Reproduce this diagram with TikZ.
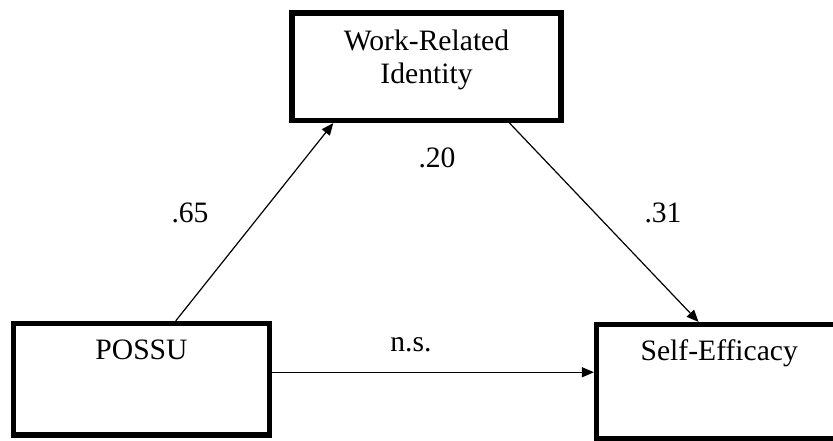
\documentclass[tikz,border=0pt]{standalone}
\usepackage{fontspec}
\setmainfont{Liberation Serif}
\usetikzlibrary{arrows.meta,positioning,calc}

\begin{document}
\begin{tikzpicture}[
  x=0.5pt, y=-0.5pt,
  font=\fontsize{14.8}{16.5}\selectfont,
  box/.style={draw, line width=2.6pt, inner sep=0pt},
  boxtext/.style={align=center, inner sep=0pt},
  coef/.style={inner sep=0pt},
  arr/.style={-{Triangle[length=6pt,width=5pt]}, line width=0.6pt}
]
\useasboundingbox (0,0) rectangle (833,440);
% the three boxes
\node[box, minimum width=134.5pt, minimum height=53.75pt] (wri) at (426.5,66.75) {};
\node[box, minimum width=128pt, minimum height=55.75pt] (possu) at (141.5,379.25) {};
\node[box, minimum width=122.75pt, minimum height=57pt] (se) at (719.25,381.5) {};
\node[boxtext, below=9.5pt of wri.north] (writext) {Work-Related\\Identity};
\node[boxtext, below=9.5pt of possu.north] (possutext) {POSSU};
\node[boxtext, below=8.5pt of se.north] (setext) {Self-Efficacy};
% paths
\draw[arr] ($(possu.north west)!0.631!(possu.north east)$) -- ($(wri.south west)!0.16!(wri.south east)$);
\draw[arr] ($(wri.south west)!0.803!(wri.south east)$) -- ($(se.north west)!0.4175!(se.north east)$);
\draw[arr] ($(possu.north east)!0.44!(possu.south east)$) coordinate (direct) -- (direct -| se.west);
% coefficients
\node[coef] (a) at (190,213) {.65};
\node[coef] (ab) at (437,158) {.20};
\node[coef] (b) at (663,213) {.31};
\node[coef] (c) at (411,345) {n.s.};
\end{tikzpicture}
\end{document}
